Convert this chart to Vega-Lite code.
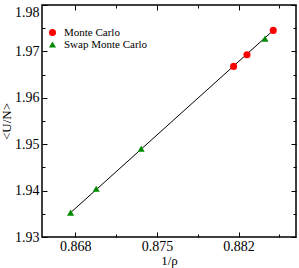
{
  "$schema": "https://vega.github.io/schema/vega-lite/v6.json",
  "width": 254,
  "height": 232,
  "autosize": {"type": "none"},
  "padding": {"left": 42, "top": 5, "right": 3, "bottom": 31},
  "background": "white",
  "config": {
    "view": {"stroke": "#000", "strokeWidth": 1.5},
    "font": "Liberation Serif",
    "axis": {
      "labelFont": "Liberation Serif",
      "titleFont": "Liberation Serif",
      "labelColor": "#000",
      "titleColor": "#000",
      "domainColor": "#000",
      "tickColor": "#000",
      "grid": false,
      "labelFontSize": 14,
      "titleFontSize": 13,
      "titleFontWeight": "normal",
      "domain": false
    }
  },
  "datasets": {
    "pts": [
      {"x": 0.88157, "y": 1.96677, "series": "Monte Carlo"},
      {"x": 0.88272, "y": 1.96929, "series": "Monte Carlo"},
      {"x": 0.88497, "y": 1.97453, "series": "Monte Carlo"},
      {"x": 0.86760, "y": 1.93524, "series": "Swap Monte Carlo"},
      {"x": 0.86980, "y": 1.94041, "series": "Swap Monte Carlo"},
      {"x": 0.87365, "y": 1.94903, "series": "Swap Monte Carlo"},
      {"x": 0.88426, "y": 1.97274, "series": "Swap Monte Carlo"}
    ],
    "fit": [
      {"x": 0.86760, "y": 1.93524},
      {"x": 0.88497, "y": 1.97453}
    ]
  },
  "layer": [
    {
      "data": {"name": "fit"},
      "mark": {"type": "line", "color": "#000", "strokeWidth": 1},
      "encoding": {
        "x": {
          "field": "x", "type": "quantitative",
          "scale": {"domain": [0.86515, 0.88692], "nice": false, "zero": false},
          "axis": {
            "orient": "bottom",
            "title": "1/ρ",
            "titlePadding": 1,
            "values": [0.868, 0.8715, 0.875, 0.8785, 0.882, 0.8855],
            "format": ".3f",
            "labelExpr": "abs(datum.value*1000 - round(datum.value*1000)) < 0.1 ? datum.label : ''",
            "tickSize": {"condition": {"test": "abs(datum.value*1000 - round(datum.value*1000)) < 0.1", "value": -5}, "value": -3},
            "labelPadding": 7
          }
        },
        "y": {
          "field": "y", "type": "quantitative",
          "scale": {"domain": [1.93, 1.98], "nice": false, "zero": false},
          "axis": {
            "orient": "left",
            "title": "<U/N>",
            "titlePadding": 1,
            "values": [1.93, 1.935, 1.94, 1.945, 1.95, 1.955, 1.96, 1.965, 1.97, 1.975, 1.98],
            "format": ".2f",
            "labelExpr": "abs(datum.value*100 - round(datum.value*100)) < 0.1 ? datum.label : ''",
            "labelBaseline": {"condition": {"test": "datum.value > 1.979", "value": "top"}, "value": "middle"},
            "tickSize": {"condition": {"test": "abs(datum.value*100 - round(datum.value*100)) < 0.1", "value": -5}, "value": -3},
            "labelPadding": 8
          }
        }
      }
    },
    {
      "data": {"name": "pts"},
      "mark": {"type": "point", "filled": true, "opacity": 1, "size": 50},
      "encoding": {
        "x": {
          "field": "x", "type": "quantitative",
          "axis": {
            "orient": "top", "title": null, "labels": false,
            "values": [0.868, 0.8715, 0.875, 0.8785, 0.882, 0.8855],
            "tickSize": {"condition": {"test": "abs(datum.value*1000 - round(datum.value*1000)) < 0.1", "value": -5}, "value": -3}
          }
        },
        "y": {
          "field": "y", "type": "quantitative",
          "axis": {
            "orient": "right", "title": null, "labels": false,
            "values": [1.93, 1.935, 1.94, 1.945, 1.95, 1.955, 1.96, 1.965, 1.97, 1.975, 1.98],
            "tickSize": {"condition": {"test": "abs(datum.value*100 - round(datum.value*100)) < 0.1", "value": -5}, "value": -3}
          }
        },
        "color": {
          "field": "series", "type": "nominal",
          "scale": {"domain": ["Monte Carlo", "Swap Monte Carlo"], "range": ["#ff0000", "#008b00"]},
          "legend": {
            "title": null,
            "orient": "none",
            "legendX": 5,
            "legendY": 22,
            "labelFont": "Liberation Serif",
            "labelFontSize": 11,
            "labelColor": "#000",
            "rowPadding": 0,
            "padding": 0,
            "symbolSize": 50,
            "labelOffset": 6
          }
        },
        "shape": {
          "field": "series", "type": "nominal",
          "scale": {"domain": ["Monte Carlo", "Swap Monte Carlo"], "range": ["circle", "triangle-up"]},
          "legend": null
        }
      }
    }
  ],
  "resolve": {"axis": {"x": "independent", "y": "independent"}}
}
